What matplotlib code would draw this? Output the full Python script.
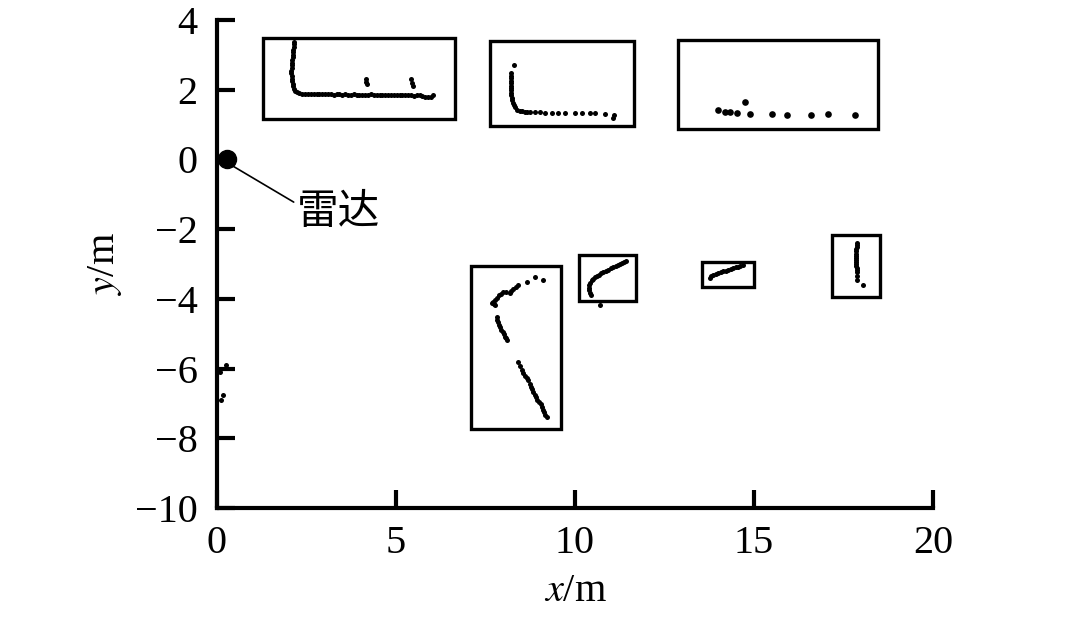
import matplotlib
matplotlib.use("Agg")
import matplotlib.pyplot as plt
from matplotlib.patches import Rectangle

plt.rcParams['font.family'] = ['Liberation Serif', 'Noto Sans CJK SC', 'DejaVu Sans']
plt.rcParams['mathtext.fontset'] = 'stix'

# ---- data (metres) ----
# cluster 1: L-shaped wall, top-left
c1_x = [2.16, 2.15, 2.14, 2.13, 2.12, 2.11, 2.11, 2.10, 2.10, 2.09, 2.09, 2.08,
        2.08, 2.09, 2.09, 2.10, 2.11, 2.12, 2.15, 2.19, 2.24,
        2.30, 2.38, 2.46, 2.54, 2.62, 2.70, 2.78, 2.86, 2.94, 3.02, 3.10, 3.18,
        3.26, 3.34, 3.42, 3.50, 3.58, 3.66, 3.74, 3.82, 3.90, 3.98, 4.06, 4.14,
        4.22, 4.30, 4.38, 4.46, 4.54, 4.62, 4.70, 4.78, 4.86, 4.94, 5.02, 5.10,
        5.18, 5.26, 5.34, 5.42, 5.50, 5.58, 5.66, 5.74, 5.82, 5.90, 5.97, 6.02,
        4.17, 4.17, 4.18, 5.43, 5.46, 5.48]
c1_y = [3.36, 3.30, 3.22, 3.15, 3.08, 3.00, 2.93, 2.85, 2.78, 2.70, 2.62, 2.55,
        2.47, 2.40, 2.32, 2.25, 2.17, 2.10, 2.03, 1.97, 1.93,
        1.90, 1.89, 1.89, 1.88, 1.88, 1.88, 1.87, 1.88, 1.87, 1.87, 1.88, 1.87,
        1.86, 1.87, 1.87, 1.86, 1.87, 1.86, 1.86, 1.87, 1.86, 1.85, 1.86, 1.85,
        1.86, 1.87, 1.86, 1.85, 1.85, 1.86, 1.85, 1.85, 1.86, 1.85, 1.84, 1.85,
        1.84, 1.86, 1.85, 1.84, 1.83, 1.84, 1.85, 1.82, 1.80, 1.79, 1.78, 1.86,
        2.30, 2.22, 2.15, 2.30, 2.20, 2.12]
# cluster 2
c2_x = [8.30, 8.22, 8.21, 8.21, 8.20, 8.20, 8.20, 8.21, 8.21, 8.22, 8.22, 8.23,
        8.24, 8.26, 8.29, 8.33, 8.39,
        8.46, 8.53, 8.60, 8.67, 8.74, 8.88, 9.02, 9.16, 9.36, 9.53, 9.72, 10.00,
        10.20, 10.42, 10.56, 10.84, 11.06, 11.10]
c2_y = [2.70, 2.47, 2.40, 2.33, 2.26, 2.19, 2.12, 2.05, 1.98, 1.91, 1.84, 1.77,
        1.70, 1.63, 1.56, 1.49, 1.43,
        1.40, 1.38, 1.37, 1.36, 1.36, 1.35, 1.35, 1.34, 1.33, 1.34, 1.32, 1.33,
        1.32, 1.33, 1.32, 1.31, 1.18, 1.28]
# cluster 3: sparse points, top-right
c3_x = [14.00, 14.19, 14.33, 14.52, 14.75, 14.89, 15.49, 15.93, 16.58, 17.08, 17.82]
c3_y = [1.41, 1.36, 1.36, 1.33, 1.64, 1.31, 1.31, 1.27, 1.27, 1.29, 1.27]
# cluster 4: bent object, lower middle
c4_x = [9.12, 8.88, 8.65, 8.42, 8.35, 8.28, 8.22, 8.18, 8.08, 8.00, 7.94, 7.89,
        7.83, 7.77, 7.72, 7.69, 7.73, 7.77,
        7.81, 7.83, 7.86, 7.88, 7.90, 7.94, 7.98, 8.01, 8.04, 8.08, 8.11,
        8.42, 8.47, 8.51, 8.56, 8.60, 8.65, 8.70, 8.73, 8.76, 8.80, 8.84, 8.88,
        8.91, 8.95, 9.00, 9.04, 9.07, 9.10, 9.13, 9.17, 9.21]
c4_y = [-3.47, -3.38, -3.52, -3.59, -3.65, -3.71, -3.77, -3.83, -3.81, -3.80, -3.85,
        -3.90, -3.97, -4.04, -4.08, -4.12, -4.16, -4.19,
        -4.52, -4.60, -4.67, -4.74, -4.81, -4.88, -4.95, -5.01, -5.08, -5.13, -5.17,
        -5.81, -5.93, -6.05, -6.12, -6.20, -6.27, -6.34, -6.44, -6.53, -6.60, -6.67,
        -6.75, -6.82, -6.89, -6.96, -7.03, -7.10, -7.18, -7.25, -7.32, -7.39]
# cluster 5
c5_x = [10.44, 10.42, 10.40, 10.40, 10.40, 10.43, 10.47, 10.51, 10.56, 10.62,
        10.68, 10.73, 10.79, 10.86, 10.93, 11.00, 11.07, 11.14, 11.21, 11.26,
        11.30, 11.36, 11.42, 10.70]
c5_y = [-3.88, -3.82, -3.76, -3.68, -3.61, -3.54, -3.47, -3.42, -3.38, -3.34,
        -3.31, -3.27, -3.23, -3.19, -3.16, -3.12, -3.09, -3.05, -3.02, -2.99,
        -2.96, -2.94, -2.92, -4.17]
# cluster 6
c6_x = [13.77, 13.81, 13.86, 13.93, 14.00, 14.07, 14.14, 14.21, 14.28, 14.35,
        14.42, 14.49, 14.56, 14.62, 14.68]
c6_y = [-3.40, -3.35, -3.31, -3.28, -3.25, -3.23, -3.21, -3.19, -3.17, -3.14,
        -3.12, -3.10, -3.08, -3.06, -3.04]
# cluster 7
c7_x = [17.88, 17.88, 17.87, 17.86, 17.86, 17.85, 17.85, 17.85, 17.85, 17.86,
        17.86, 17.86, 17.87, 17.87, 17.87, 17.88, 17.89, 18.05]
c7_y = [-2.40, -2.46, -2.52, -2.58, -2.64, -2.70, -2.76, -2.82, -2.88, -2.94,
        -3.00, -3.06, -3.12, -3.18, -3.24, -3.33, -3.45, -3.60]
# stray points near the y axis
c8_x = [0.25, 0.08, 0.18, 0.10]
c8_y = [-5.91, -6.10, -6.77, -6.91]

# bounding boxes: (x0, x1, y0, y1)
box_x0 = [1.28, 7.63, 12.88, 7.09, 10.11, 13.55, 17.18]
box_x1 = [6.65, 11.65, 18.46, 9.61, 11.70, 15.00, 18.52]
box_y0 = [1.15, 0.95, 0.86, -7.72, -4.07, -3.67, -3.96]
box_y1 = [3.47, 3.41, 3.44, -3.07, -2.75, -2.93, -2.18]

radar_x, radar_y = 0.28, 0.0
radar_label = "雷达"

x_ticks = [0, 5, 10, 15, 20]
y_ticks = [4, 2, 0, -2, -4, -6, -8, -10]

# ---- figure ----
fig = plt.figure(figsize=(10.8, 6.2), dpi=100)
ax = fig.add_axes([217/1080, 1-508/620, (933-217)/1080, (508-20)/620])

for xs, ys in [(c1_x, c1_y), (c2_x, c2_y), (c4_x, c4_y), (c5_x, c5_y),
               (c6_x, c6_y), (c7_x, c7_y), (c8_x, c8_y)]:
    ax.plot(xs, ys, 'o', color='black', ms=3.6, mec='none', zorder=3)
ax.plot(c3_x, c3_y, 'o', color='black', ms=4.8, mec='none', zorder=3)

for x0, x1, y0, y1 in zip(box_x0, box_x1, box_y0, box_y1):
    ax.add_patch(Rectangle((x0, y0), x1 - x0, y1 - y0, fill=False,
                           ec='black', lw=2.4, zorder=2))

ax.plot([radar_x], [radar_y], 'o', color='black', ms=13, zorder=4, clip_on=False)
ax.annotate(radar_label, xy=(0.41, -0.17), xytext=(2.22, -1.53),
            fontsize=30, family=['Noto Sans CJK SC', 'DejaVu Sans'],
            ha='left', va='center',
            arrowprops=dict(arrowstyle='-', color='black', lw=1.2,
                            shrinkA=0, shrinkB=0, relpos=(0, 0.72)))

ax.set_xlim(0, 20)
ax.set_ylim(-10, 4)
ax.set_xticks(x_ticks)
ax.set_yticks(y_ticks)
ax.set_xticklabels([str(v) for v in x_ticks])
ax.set_yticklabels([str(v).replace('-', '\u2212') for v in y_ticks])

for s in ['top', 'right']:
    ax.spines[s].set_visible(False)
for s in ['left', 'bottom']:
    ax.spines[s].set_linewidth(3)
    ax.spines[s].set_zorder(5)

ax.tick_params(axis='both', direction='in', length=13, width=3, labelsize=29)
ax.tick_params(axis='y', pad=14)
ax.tick_params(axis='x', pad=12)

ax.set_xlabel('$x$/m', fontsize=29, labelpad=8)
ax.set_ylabel('$y$/m', fontsize=29, labelpad=8)

fig.savefig('out.png', dpi=100)
